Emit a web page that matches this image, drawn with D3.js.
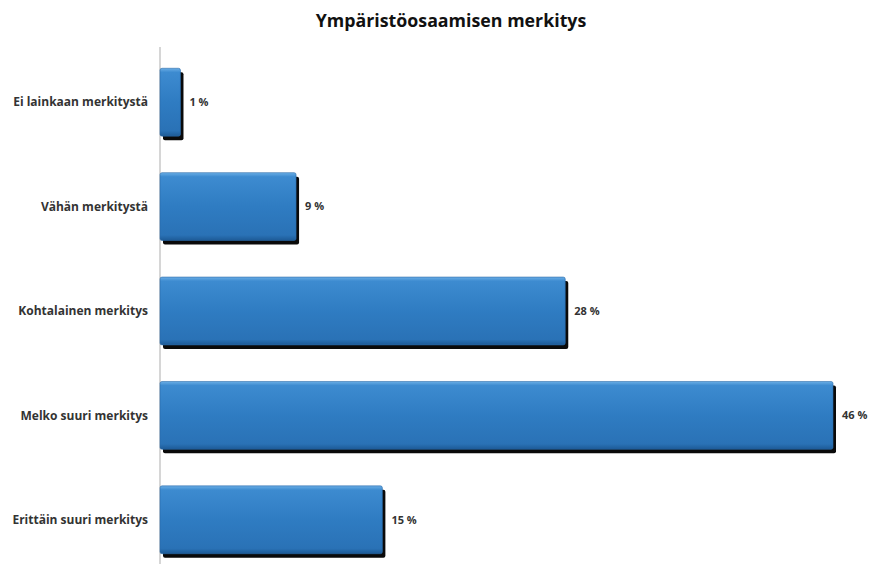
<!DOCTYPE html>
<html><head><meta charset="utf-8">
<script src="https://cdn.jsdelivr.net/npm/d3@7"></script>
<style>body{margin:0;background:#fff}svg{display:block}</style>
</head><body>
<script>
const categories = ["Ei lainkaan merkitystä","Vähän merkitystä","Kohtalainen merkitys","Melko suuri merkitys","Erittäin suuri merkitys"];
const values = [1.4, 9.3, 27.7, 46, 15.2];
const valueLabels = ["1 %","9 %","28 %","46 %","15 %"];
const title = "Ympäristöosaamisen merkitys";

const W = 877, H = 564;
const FONT = "'Open Sans', Lato, sans-serif";
const svg = d3.select("body").append("svg").attr("width", W).attr("height", H);
const defs = svg.append("defs");
const g1 = defs.append("linearGradient").attr("id","bg").attr("x1",0).attr("y1",0).attr("x2",0).attr("y2",1);
g1.append("stop").attr("offset","0").attr("stop-color","#6aaee6");
g1.append("stop").attr("offset","0.06").attr("stop-color","#3d8bd0");
g1.append("stop").attr("offset","0.5").attr("stop-color","#2f7cc2");
g1.append("stop").attr("offset","0.92").attr("stop-color","#2a72b6");
g1.append("stop").attr("offset","1").attr("stop-color","#1d5a96");

const x = d3.scaleLinear().domain([0, 46]).range([160, 833]);
const y = d3.scaleBand().domain(categories).range([50, 572]).paddingInner(0.35).paddingOuter(0.175);

svg.append("text").attr("x", 451).attr("y", 27).attr("text-anchor","middle")
  .attr("font-family",FONT).attr("font-weight","bold").attr("font-size",17.8)
  .attr("fill","#111").text(title);

svg.append("line").attr("x1",160).attr("x2",160).attr("y1",47).attr("y2",566).attr("stroke","#c8c8c8").attr("stroke-width",1.5);

const rows = svg.append("g").selectAll("g").data(categories).join("g");
rows.append("rect").attr("x", x(0)+3).attr("y", (d)=>y(d)+4)
  .attr("width",(d,i)=>x(values[i])-x(0)).attr("height", y.bandwidth())
  .attr("rx",2).attr("fill","#0a0a0a");
rows.append("rect").attr("x", x(0)).attr("y", (d)=>y(d))
  .attr("width",(d,i)=>x(values[i])-x(0)).attr("height", y.bandwidth())
  .attr("rx",2).attr("fill","url(#bg)").attr("stroke","#2a6aa8").attr("stroke-width",0.6);

rows.append("text").attr("x",148).attr("y",(d)=>y(d)+y.bandwidth()/2).attr("dy","0.35em")
  .attr("text-anchor","end").attr("font-family",FONT).attr("font-weight","bold")
  .attr("font-size",12).attr("fill","#333").text(d=>d);
rows.append("text").attr("x",(d,i)=>x(values[i])+9).attr("y",(d)=>y(d)+y.bandwidth()/2).attr("dy","0.35em")
  .attr("font-family",FONT).attr("font-weight","bold")
  .attr("font-size",11).attr("fill","#333").text((d,i)=>valueLabels[i]);
</script>
</body></html>
